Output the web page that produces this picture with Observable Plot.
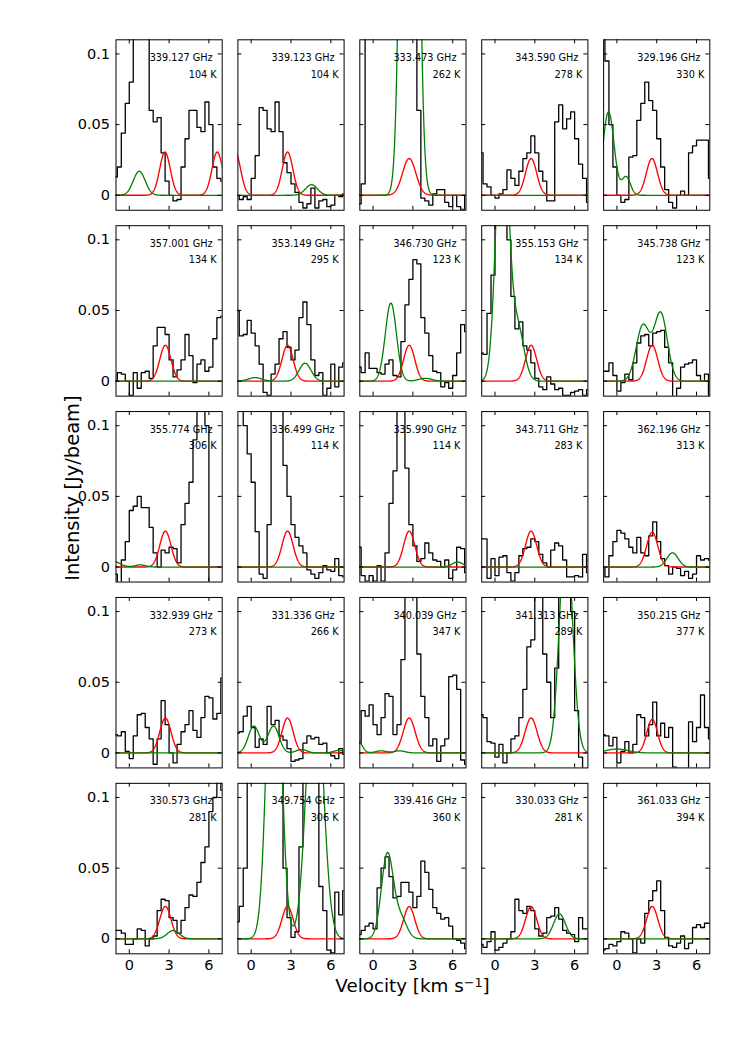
<!DOCTYPE html>
<html>
<head>
<meta charset="utf-8">
<script src="https://cdn.jsdelivr.net/npm/d3@7"></script>
<script src="https://cdn.jsdelivr.net/npm/@observablehq/plot@0.6"></script>
<style>
  html, body { margin: 0; padding: 0; background: #fff; }
  #wrap { position: relative; width: 748px; height: 1057px; font-family: "DejaVu Sans", sans-serif; color: #000; }
  .lab { position: absolute; white-space: nowrap; line-height: 1.164; }
  .lab sup { font-size: 70%; vertical-align: 0.45em; line-height: 0; }
</style>
</head>
<body>
<div id="wrap"></div>
<script>
// ---------- data ----------
const frequencies = [
  "339.127 GHz", "339.123 GHz", "333.473 GHz", "343.590 GHz", "329.196 GHz",
  "357.001 GHz", "353.149 GHz", "346.730 GHz", "355.153 GHz", "345.738 GHz",
  "355.774 GHz", "336.499 GHz", "335.990 GHz", "343.711 GHz", "362.196 GHz",
  "332.939 GHz", "331.336 GHz", "340.039 GHz", "341.313 GHz", "350.215 GHz",
  "330.573 GHz", "349.754 GHz", "339.416 GHz", "330.033 GHz", "361.033 GHz"
];
const energies = [
  "104 K", "104 K", "262 K", "278 K", "330 K",
  "134 K", "295 K", "123 K", "134 K", "123 K",
  "306 K", "114 K", "114 K", "283 K", "313 K",
  "273 K", "266 K", "347 K", "289 K", "377 K",
  "281 K", "306 K", "360 K", "281 K", "394 K"
];
// channel velocities (km/s)
const velocity = [-1.05,-0.75,-0.45,-0.15,0.15,0.45,0.75,1.05,1.35,1.65,1.95,2.25,2.55,2.85,3.15,3.45,3.75,4.05,4.35,4.65,4.95,5.25,5.55,5.85,6.15,6.45,6.75,7.05];
// observed spectra (Jy/beam), one array per panel
const spectra = [
  [0.013,0.02,0.044,0.065,0.08,0.14,0.15,0.13,0.12,0.06,0.052,0.055,0.03,0.01,0.0,-0.004,-0.003,0.02,0.04,0.06,0.06,0.048,0.045,0.066,0.05,0.02,0.012,0.01],
  [0.0,-0.003,-0.001,-0.003,0.012,0.028,0.062,0.06,0.047,0.045,0.066,0.045,0.023,0.016,0.008,0.002,-0.005,-0.009,-0.006,0.005,-0.009,-0.004,-0.003,-0.008,-0.007,0.0,-0.001,0.001],
  [-0.006,0.008,0.2,0.2,0.2,0.2,0.2,0.2,0.2,0.2,0.2,0.2,0.2,0.2,0.2,0.06,-0.002,-0.004,-0.007,0.001,0.004,0.004,-0.005,-0.008,0.0,-0.008,-0.01,0.0],
  [0.03,0.008,0.006,0.0,-0.002,0.001,0.004,0.018,0.012,0.007,0.017,0.026,0.03,0.042,0.03,0.017,0.01,-0.004,-0.004,0.052,0.064,0.047,0.054,0.059,0.04,0.022,0.012,-0.005],
  [0.115,0.095,0.05,0.02,0.0,-0.005,-0.003,0.027,0.028,0.053,0.065,0.08,0.067,0.06,0.04,0.02,0.004,-0.005,-0.009,0.0,0.003,0.0,0.03,0.035,0.039,0.039,0.039,0.012],
  [0.0,0.006,0.005,0.0,-0.01,0.006,-0.005,0.006,0.007,0.002,0.025,0.038,0.038,0.033,0.015,0.003,0.008,0.015,0.033,0.018,-0.001,0.012,0.015,0.007,0.01,0.03,0.045,0.046],
  [0.05,0.032,0.033,0.043,0.034,0.025,0.012,-0.008,-0.01,0.005,0.012,0.03,0.035,0.024,0.015,0.022,0.045,0.056,0.04,0.015,0.004,0.006,-0.01,-0.005,0.012,-0.004,0.01,0.013],
  [0.01,0.006,0.02,0.009,0.009,0.006,0.005,0.012,0.015,0.004,0.003,0.028,0.054,0.072,0.086,0.083,0.045,0.034,0.018,0.007,0.006,-0.004,-0.001,-0.005,0.004,0.02,0.04,0.035],
  [0.02,0.019,0.048,0.075,0.12,0.13,0.13,0.1,0.06,0.037,0.042,0.025,0.022,0.013,0.002,-0.004,-0.006,0.003,-0.002,-0.006,-0.005,-0.01,-0.01,-0.008,-0.007,-0.006,-0.01,-0.006],
  [0.007,0.007,0.013,0.004,-0.007,-0.001,0.005,0.001,0.013,0.027,0.032,0.033,0.025,0.034,0.035,0.036,0.024,0.013,-0.011,-0.005,0.01,0.012,0.013,0.015,0.004,0.0,0.005,-0.01],
  [-0.005,-0.012,0.005,0.018,0.04,0.043,0.05,0.042,0.042,0.028,0.01,0.0,0.012,0.01,0.014,0.013,0.003,0.03,0.045,0.06,0.09,0.12,0.13,0.1,-0.012,-0.012,-0.012,-0.012],
  [0.13,0.12,0.1,0.08,0.06,0.025,-0.005,-0.008,0.03,0.12,0.14,0.12,0.072,0.05,0.03,0.021,0.015,0.01,-0.002,-0.005,-0.008,-0.004,0.001,-0.002,-0.003,0.006,-0.006,-0.007],
  [0.014,-0.006,-0.01,-0.006,-0.01,0.001,-0.01,0.01,0.045,0.068,0.13,0.14,0.07,0.03,0.015,0.004,0.006,0.017,0.01,0.005,0.004,0.0,0.005,-0.008,-0.002,0.014,0.013,-0.004],
  [0.02,0.02,-0.008,0.006,-0.006,0.007,0.008,-0.004,-0.01,-0.004,0.008,0.013,0.014,0.02,0.018,0.009,0.003,0.0,0.012,0.017,0.015,0.005,-0.007,-0.007,-0.006,-0.007,0.009,-0.004],
  [0.0,-0.007,0.008,0.018,0.026,0.024,0.02,0.014,0.01,0.021,0.01,0.008,0.022,0.032,0.018,0.006,0.001,-0.005,0.0,-0.001,-0.006,-0.003,-0.008,-0.005,0.008,0.005,0.006,0.005],
  [0.013,0.012,0.015,0.001,-0.004,0.012,0.027,0.028,0.018,0.01,-0.008,0.01,0.037,0.02,0.0,-0.007,0.006,0.015,0.02,0.03,0.016,0.011,0.025,0.04,0.039,0.024,0.028,0.053],
  [0.014,0.015,0.026,0.033,0.018,0.004,0.01,0.006,0.033,0.02,0.023,0.012,0.009,0.003,-0.006,-0.005,-0.004,0.007,0.012,0.01,0.011,0.006,0.007,0.0,-0.002,-0.004,0.003,-0.001],
  [0.007,0.03,0.026,0.034,0.02,0.013,0.025,0.042,0.04,0.013,0.02,0.066,0.13,0.14,0.12,0.07,0.04,0.025,0.005,0.01,-0.006,0.005,0.01,0.054,0.055,0.045,-0.005,-0.008],
  [0.027,0.025,0.008,0.007,-0.003,0.006,-0.007,0.0,0.01,0.012,0.025,0.045,0.075,0.08,0.13,0.12,0.07,0.05,0.025,0.06,0.14,0.15,0.14,0.1,0.03,-0.003,-0.015,-0.015],
  [0.013,0.012,0.005,0.011,-0.007,0.001,0.008,0.0,0.006,0.027,0.025,0.012,0.02,0.036,0.012,0.021,0.011,0.018,-0.01,-0.011,-0.012,-0.011,0.022,0.008,0.018,0.041,0.018,0.01],
  [0.006,0.006,0.004,-0.004,-0.004,0.0,0.007,0.006,-0.005,0.0,0.002,0.02,0.028,0.027,0.015,0.013,0.004,0.013,0.022,0.031,0.03,0.04,0.054,0.065,0.09,0.1,0.12,0.105],
  [0.012,0.023,0.05,0.12,0.15,0.15,0.15,0.15,0.15,0.14,0.13,0.12,0.05,0.015,0.001,0.005,0.065,0.13,0.15,0.15,0.12,0.037,0.02,-0.008,-0.01,0.033,0.017,0.034],
  [0.003,0.006,0.009,0.011,0.007,0.036,0.05,0.058,0.044,0.029,0.03,0.04,0.04,0.033,0.022,0.03,0.055,0.047,0.035,0.022,0.018,0.014,0.015,0.009,0.0,-0.001,-0.003,-0.007],
  [-0.004,-0.006,-0.002,0.005,-0.008,-0.006,-0.003,0.0,0.005,0.028,0.02,0.018,0.023,0.02,0.007,0.002,0.004,0.015,0.016,0.022,0.014,0.006,0.004,0.003,-0.002,0.015,0.007,0.007],
  [-0.008,-0.007,-0.004,-0.005,-0.002,0.005,0.004,0.0,-0.01,0.0,-0.003,0.018,0.027,0.034,0.041,0.02,0.001,-0.005,-0.006,-0.003,0.002,-0.007,-0.003,0.008,0.01,0.008,0.011,0.011]
];
// fitted Gaussian components per panel: [amplitude (Jy/beam), centre (km/s), sigma (km/s)]
const redFits = [
  [[0.0306,2.69,0.40],[0.0306,6.63,0.40]],
  [[0.0306,2.74,0.40],[0.0306,-1.2,0.40]],
  [[0.026,2.72,0.50]],
  [[0.026,2.72,0.42]],
  [[0.026,2.64,0.42]],
  [[0.0254,2.72,0.42]],
  [[0.0254,2.74,0.42]],
  [[0.0254,2.72,0.42]],
  [[0.0254,2.72,0.42]],
  [[0.0254,2.66,0.42]],
  [[0.0254,2.72,0.42]],
  [[0.0254,2.74,0.42]],
  [[0.0254,2.72,0.42]],
  [[0.0254,2.72,0.42]],
  [[0.0247,2.66,0.42]],
  [[0.0247,2.72,0.42]],
  [[0.0247,2.74,0.42]],
  [[0.0247,2.72,0.45]],
  [[0.0247,2.72,0.45]],
  [[0.0238,2.66,0.40]],
  [[0.023,2.72,0.42]],
  [[0.023,2.74,0.42]],
  [[0.0228,2.72,0.42]],
  [[0.0228,2.72,0.42]],
  [[0.023,2.66,0.42]]
];
const greenFits = [
  [[0.017,0.75,0.45]],
  [[0.0075,4.54,0.45]],
  [[1.0,2.75,0.44]],
  [],
  [[0.059,-0.63,0.42],[0.013,0.7,0.32]],
  [],
  [[0.0127,4.06,0.45],[0.0025,0.3,0.5]],
  [[0.0553,1.34,0.42],[0.002,3.94,0.5]],
  [[0.2,0.55,0.45],[0.038,1.7,0.48]],
  [[0.039,1.95,0.5],[0.048,3.3,0.5]],
  [[0.004,-1.2,0.5],[0.0015,0.82,0.4]],
  [],
  [[0.0036,6.36,0.4]],
  [],
  [[0.0101,4.19,0.42]],
  [],
  [[0.019,0.2,0.42],[0.019,1.68,0.42],[0.0024,3.8,0.4],[0.0018,6.6,0.4]],
  [[0.008,-1.1,0.3],[0.0015,0.6,0.4],[0.0015,2.0,0.4]],
  [[0.16,5.35,0.48]],
  [[0.0028,0.0,0.8]],
  [[0.0059,3.31,0.45]],
  [[0.26,1.72,0.5],[0.2,4.79,0.6]],
  [[0.06,1.08,0.45],[0.014,2.1,0.45]],
  [[0.0176,4.86,0.45]],
  []
];
const xTicks = [0, 3, 6];
const yTicks = [0, 0.05, 0.1];
const xDomain = [-1, 7];
const yDomain = [-0.0106, 0.110];

// ---------- tidy tables ----------
const panels = frequencies.map((f, i) => ({i, col: i % 5, row: Math.floor(i / 5), freq: f, temp: energies[i]}));
const specRows = panels.flatMap(p => velocity.map((v, j) => ({p: p.i, col: p.col, row: p.row, v, y: spectra[p.i][j]})));
const modelGrid = d3.range(-1.2, 7.2001, 0.02);
const gauss = (comps, v) => comps.reduce((s, [a, m, sd]) => s + a * Math.exp(-((v - m) ** 2) / (2 * sd * sd)), 0);
const modelRows = fits => panels.flatMap(p => modelGrid.map(v => ({p: p.i, col: p.col, row: p.row, v, y: gauss(fits[p.i], v)})));

// ---------- layout ----------
const W = 748, H = 1057;
const mL = 115.5, mR = 38.7, mT = 39.3, mB = H - 953.3;
const pX = 0.129, pY = 0.083;
const bwX = (W - mL - mR) / (5 - pX) * (1 - pX);
const bwY = (H - mT - mB) / (5 - pY) * (1 - pY);
const tickLen = 4;

const common = {x: "v", y: "y", z: "p", fx: "col", fy: "row", clip: true};

const chart = Plot.plot({
  width: W, height: H,
  marginLeft: mL, marginRight: mR, marginTop: mT, marginBottom: mB,
  style: {fontFamily: "DejaVu Sans", background: "white", color: "black", overflow: "visible"},
  fx: {domain: [0,1,2,3,4], paddingInner: pX, paddingOuter: 0, axis: null, round: false},
  fy: {domain: [0,1,2,3,4], paddingInner: pY, paddingOuter: 0, axis: null, round: false},
  x: {domain: xDomain},
  y: {domain: yDomain},
  marks: [
    Plot.line(specRows, {...common, curve: "step", stroke: "black", strokeWidth: 1.3}),
    Plot.line(modelRows(redFits), {...common, stroke: "#ff0000", strokeWidth: 1.35}),
    Plot.line(modelRows(greenFits), {...common, stroke: "#008000", strokeWidth: 1.3}),
    Plot.frame({stroke: "black", strokeWidth: 1}),
    Plot.tickX(xTicks, {x: d => d, stroke: "black", insetBottom: bwY - tickLen}),
    Plot.tickX(xTicks, {x: d => d, stroke: "black", insetTop: bwY - tickLen}),
    Plot.tickY(yTicks, {y: d => d, stroke: "black", insetRight: bwX - tickLen}),
    Plot.tickY(yTicks, {y: d => d, stroke: "black", insetLeft: bwX - tickLen}),
    Plot.axisX({ticks: xTicks, tickSize: 0, tickPadding: 5.5, fontSize: 14.5, label: null, tickFormat: d => String(d)}),
    Plot.axisY({ticks: yTicks, tickSize: 0, tickPadding: 6, fontSize: 14.5, label: null, tickFormat: d => String(d)}),
    Plot.text(panels, {fx: "col", fy: "row", text: "freq", frameAnchor: "top-right", lineAnchor: "middle", textAnchor: "end", dx: -9.5, dy: 18, fontSize: 9.7, fill: "black"}),
    Plot.text(panels, {fx: "col", fy: "row", text: "temp", frameAnchor: "top-right", lineAnchor: "middle", textAnchor: "end", dx: -5.5, dy: 34.7, fontSize: 9.7, fill: "black"})
  ]
});

const wrap = document.getElementById("wrap");
wrap.appendChild(chart);

const ylab = document.createElement("div");
ylab.className = "lab";
ylab.textContent = "Intensity [Jy/beam]";
ylab.style.fontSize = "19.5px";
ylab.style.left = "73px";
ylab.style.top = "488px";
ylab.style.transform = "translate(-50%, -50%) rotate(-90deg)";
wrap.appendChild(ylab);

const xlab = document.createElement("div");
xlab.className = "lab";
xlab.innerHTML = "Velocity [km s<sup>\u22121</sup>]";
xlab.style.fontSize = "18.3px";
xlab.style.left = "412.5px";
xlab.style.top = "986px";
xlab.style.transform = "translate(-50%, -50%)";
wrap.appendChild(xlab);
</script>
</body>
</html>
